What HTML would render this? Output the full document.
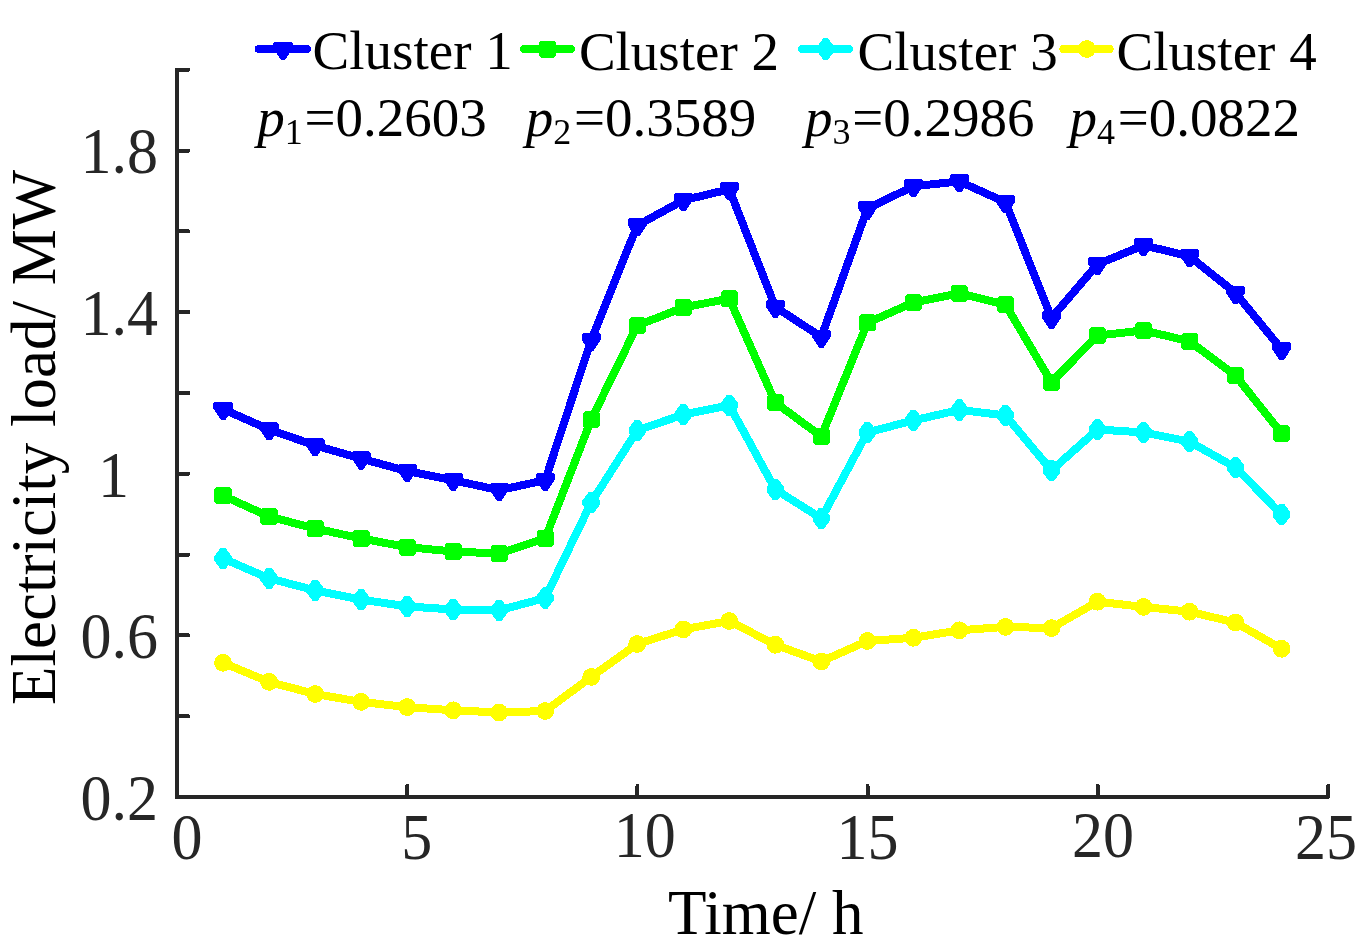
<!DOCTYPE html>
<html><head><meta charset="utf-8"><title>Electricity load clusters</title>
<style>
html,body{margin:0;padding:0;background:#fff;}
svg{display:block;font-family:"Liberation Serif",serif;}
</style></head><body>
<svg width="1364" height="950" viewBox="0 0 1364 950">
<rect width="1364" height="950" fill="#fff"/>
<g shape-rendering="crispEdges">
<path d="M188.5 69.7H177.0V797.0H1328V786" fill="none" stroke="#262626" stroke-width="4" stroke-linejoin="round" stroke-linecap="round"/>
<path d="M178.0 716.19H188.5" stroke="#262626" stroke-width="4" stroke-linecap="round"/>
<path d="M178.0 635.38H188.5" stroke="#262626" stroke-width="4" stroke-linecap="round"/>
<path d="M178.0 554.57H188.5" stroke="#262626" stroke-width="4" stroke-linecap="round"/>
<path d="M178.0 473.76H188.5" stroke="#262626" stroke-width="4" stroke-linecap="round"/>
<path d="M178.0 392.94H188.5" stroke="#262626" stroke-width="4" stroke-linecap="round"/>
<path d="M178.0 312.13H188.5" stroke="#262626" stroke-width="4" stroke-linecap="round"/>
<path d="M178.0 231.32H188.5" stroke="#262626" stroke-width="4" stroke-linecap="round"/>
<path d="M178.0 150.51H188.5" stroke="#262626" stroke-width="4" stroke-linecap="round"/>
<path d="M407.20 796.0V786" stroke="#262626" stroke-width="4" stroke-linecap="round"/>
<path d="M637.40 796.0V786" stroke="#262626" stroke-width="4" stroke-linecap="round"/>
<path d="M867.60 796.0V786" stroke="#262626" stroke-width="4" stroke-linecap="round"/>
<path d="M1097.80 796.0V786" stroke="#262626" stroke-width="4" stroke-linecap="round"/>
<polyline points="223.05,662.80 269.07,681.90 315.10,694.00 361.12,701.90 407.14,707.10 453.16,710.30 499.18,712.50 545.21,711.00 591.23,676.90 637.25,644.00 683.27,629.40 729.29,621.00 775.32,644.80 821.34,661.50 867.36,641.00 913.38,637.80 959.40,630.30 1005.43,626.90 1051.45,628.10 1097.47,601.70 1143.49,606.90 1189.51,611.70 1235.54,622.60 1281.56,648.80" fill="none" stroke="#ffff00" stroke-width="8.0" stroke-linejoin="round" stroke-linecap="round"/>
<circle cx="223.05" cy="662.80" r="8.9" fill="#ffff00"/>
<circle cx="269.07" cy="681.90" r="8.9" fill="#ffff00"/>
<circle cx="315.10" cy="694.00" r="8.9" fill="#ffff00"/>
<circle cx="361.12" cy="701.90" r="8.9" fill="#ffff00"/>
<circle cx="407.14" cy="707.10" r="8.9" fill="#ffff00"/>
<circle cx="453.16" cy="710.30" r="8.9" fill="#ffff00"/>
<circle cx="499.18" cy="712.50" r="8.9" fill="#ffff00"/>
<circle cx="545.21" cy="711.00" r="8.9" fill="#ffff00"/>
<circle cx="591.23" cy="676.90" r="8.9" fill="#ffff00"/>
<circle cx="637.25" cy="644.00" r="8.9" fill="#ffff00"/>
<circle cx="683.27" cy="629.40" r="8.9" fill="#ffff00"/>
<circle cx="729.29" cy="621.00" r="8.9" fill="#ffff00"/>
<circle cx="775.32" cy="644.80" r="8.9" fill="#ffff00"/>
<circle cx="821.34" cy="661.50" r="8.9" fill="#ffff00"/>
<circle cx="867.36" cy="641.00" r="8.9" fill="#ffff00"/>
<circle cx="913.38" cy="637.80" r="8.9" fill="#ffff00"/>
<circle cx="959.40" cy="630.30" r="8.9" fill="#ffff00"/>
<circle cx="1005.43" cy="626.90" r="8.9" fill="#ffff00"/>
<circle cx="1051.45" cy="628.10" r="8.9" fill="#ffff00"/>
<circle cx="1097.47" cy="601.70" r="8.9" fill="#ffff00"/>
<circle cx="1143.49" cy="606.90" r="8.9" fill="#ffff00"/>
<circle cx="1189.51" cy="611.70" r="8.9" fill="#ffff00"/>
<circle cx="1235.54" cy="622.60" r="8.9" fill="#ffff00"/>
<circle cx="1281.56" cy="648.80" r="8.9" fill="#ffff00"/>
<polyline points="223.05,558.50 269.07,578.30 315.10,590.40 361.12,599.60 407.14,606.40 453.16,609.50 499.18,610.30 545.21,598.00 591.23,502.50 637.25,430.40 683.27,414.60 729.29,405.40 775.32,489.40 821.34,518.40 867.36,432.50 913.38,420.40 959.40,409.90 1005.43,415.40 1051.45,470.40 1097.47,429.50 1143.49,432.40 1189.51,441.60 1235.54,467.50 1281.56,514.40" fill="none" stroke="#00ffff" stroke-width="8.0" stroke-linejoin="round" stroke-linecap="round"/>
<path d="M220.60 547.90L225.50 547.90L231.80 556.30L231.80 560.70L225.50 569.10L220.60 569.10L214.30 560.70L214.30 556.30Z" fill="#00ffff"/>
<path d="M266.62 567.70L271.52 567.70L277.82 576.10L277.82 580.50L271.52 588.90L266.62 588.90L260.32 580.50L260.32 576.10Z" fill="#00ffff"/>
<path d="M312.65 579.80L317.55 579.80L323.85 588.20L323.85 592.60L317.55 601.00L312.65 601.00L306.35 592.60L306.35 588.20Z" fill="#00ffff"/>
<path d="M358.67 589.00L363.57 589.00L369.87 597.40L369.87 601.80L363.57 610.20L358.67 610.20L352.37 601.80L352.37 597.40Z" fill="#00ffff"/>
<path d="M404.69 595.80L409.59 595.80L415.89 604.20L415.89 608.60L409.59 617.00L404.69 617.00L398.39 608.60L398.39 604.20Z" fill="#00ffff"/>
<path d="M450.71 598.90L455.61 598.90L461.91 607.30L461.91 611.70L455.61 620.10L450.71 620.10L444.41 611.70L444.41 607.30Z" fill="#00ffff"/>
<path d="M496.73 599.70L501.63 599.70L507.93 608.10L507.93 612.50L501.63 620.90L496.73 620.90L490.43 612.50L490.43 608.10Z" fill="#00ffff"/>
<path d="M542.76 587.40L547.66 587.40L553.96 595.80L553.96 600.20L547.66 608.60L542.76 608.60L536.46 600.20L536.46 595.80Z" fill="#00ffff"/>
<path d="M588.78 491.90L593.68 491.90L599.98 500.30L599.98 504.70L593.68 513.10L588.78 513.10L582.48 504.70L582.48 500.30Z" fill="#00ffff"/>
<path d="M634.80 419.80L639.70 419.80L646.00 428.20L646.00 432.60L639.70 441.00L634.80 441.00L628.50 432.60L628.50 428.20Z" fill="#00ffff"/>
<path d="M680.82 404.00L685.72 404.00L692.02 412.40L692.02 416.80L685.72 425.20L680.82 425.20L674.52 416.80L674.52 412.40Z" fill="#00ffff"/>
<path d="M726.84 394.80L731.74 394.80L738.04 403.20L738.04 407.60L731.74 416.00L726.84 416.00L720.54 407.60L720.54 403.20Z" fill="#00ffff"/>
<path d="M772.87 478.80L777.77 478.80L784.07 487.20L784.07 491.60L777.77 500.00L772.87 500.00L766.57 491.60L766.57 487.20Z" fill="#00ffff"/>
<path d="M818.89 507.80L823.79 507.80L830.09 516.20L830.09 520.60L823.79 529.00L818.89 529.00L812.59 520.60L812.59 516.20Z" fill="#00ffff"/>
<path d="M864.91 421.90L869.81 421.90L876.11 430.30L876.11 434.70L869.81 443.10L864.91 443.10L858.61 434.70L858.61 430.30Z" fill="#00ffff"/>
<path d="M910.93 409.80L915.83 409.80L922.13 418.20L922.13 422.60L915.83 431.00L910.93 431.00L904.63 422.60L904.63 418.20Z" fill="#00ffff"/>
<path d="M956.95 399.30L961.85 399.30L968.15 407.70L968.15 412.10L961.85 420.50L956.95 420.50L950.65 412.10L950.65 407.70Z" fill="#00ffff"/>
<path d="M1002.98 404.80L1007.88 404.80L1014.18 413.20L1014.18 417.60L1007.88 426.00L1002.98 426.00L996.68 417.60L996.68 413.20Z" fill="#00ffff"/>
<path d="M1049.00 459.80L1053.90 459.80L1060.20 468.20L1060.20 472.60L1053.90 481.00L1049.00 481.00L1042.70 472.60L1042.70 468.20Z" fill="#00ffff"/>
<path d="M1095.02 418.90L1099.92 418.90L1106.22 427.30L1106.22 431.70L1099.92 440.10L1095.02 440.10L1088.72 431.70L1088.72 427.30Z" fill="#00ffff"/>
<path d="M1141.04 421.80L1145.94 421.80L1152.24 430.20L1152.24 434.60L1145.94 443.00L1141.04 443.00L1134.74 434.60L1134.74 430.20Z" fill="#00ffff"/>
<path d="M1187.06 431.00L1191.96 431.00L1198.26 439.40L1198.26 443.80L1191.96 452.20L1187.06 452.20L1180.76 443.80L1180.76 439.40Z" fill="#00ffff"/>
<path d="M1233.09 456.90L1237.99 456.90L1244.29 465.30L1244.29 469.70L1237.99 478.10L1233.09 478.10L1226.79 469.70L1226.79 465.30Z" fill="#00ffff"/>
<path d="M1279.11 503.80L1284.01 503.80L1290.31 512.20L1290.31 516.60L1284.01 525.00L1279.11 525.00L1272.81 516.60L1272.81 512.20Z" fill="#00ffff"/>
<polyline points="223.05,495.60 269.07,516.60 315.10,528.50 361.12,538.40 407.14,547.10 453.16,551.50 499.18,553.50 545.21,538.40 591.23,419.60 637.25,325.60 683.27,307.50 729.29,298.60 775.32,402.50 821.34,436.40 867.36,322.90 913.38,302.50 959.40,293.40 1005.43,304.60 1051.45,382.20 1097.47,335.60 1143.49,330.40 1189.51,341.30 1235.54,375.60 1281.56,433.40" fill="none" stroke="#00ff00" stroke-width="8.0" stroke-linejoin="round" stroke-linecap="round"/>
<path d="M216.75 487.10L229.35 487.10L231.65 489.40L231.65 501.80L229.35 504.10L216.75 504.10L214.45 501.80L214.45 489.40Z" fill="#00ff00"/>
<path d="M262.77 508.10L275.37 508.10L277.67 510.40L277.67 522.80L275.37 525.10L262.77 525.10L260.47 522.80L260.47 510.40Z" fill="#00ff00"/>
<path d="M308.80 520.00L321.40 520.00L323.70 522.30L323.70 534.70L321.40 537.00L308.80 537.00L306.50 534.70L306.50 522.30Z" fill="#00ff00"/>
<path d="M354.82 529.90L367.42 529.90L369.72 532.20L369.72 544.60L367.42 546.90L354.82 546.90L352.52 544.60L352.52 532.20Z" fill="#00ff00"/>
<path d="M400.84 538.60L413.44 538.60L415.74 540.90L415.74 553.30L413.44 555.60L400.84 555.60L398.54 553.30L398.54 540.90Z" fill="#00ff00"/>
<path d="M446.86 543.00L459.46 543.00L461.76 545.30L461.76 557.70L459.46 560.00L446.86 560.00L444.56 557.70L444.56 545.30Z" fill="#00ff00"/>
<path d="M492.88 545.00L505.48 545.00L507.78 547.30L507.78 559.70L505.48 562.00L492.88 562.00L490.58 559.70L490.58 547.30Z" fill="#00ff00"/>
<path d="M538.91 529.90L551.51 529.90L553.81 532.20L553.81 544.60L551.51 546.90L538.91 546.90L536.61 544.60L536.61 532.20Z" fill="#00ff00"/>
<path d="M584.93 411.10L597.53 411.10L599.83 413.40L599.83 425.80L597.53 428.10L584.93 428.10L582.63 425.80L582.63 413.40Z" fill="#00ff00"/>
<path d="M630.95 317.10L643.55 317.10L645.85 319.40L645.85 331.80L643.55 334.10L630.95 334.10L628.65 331.80L628.65 319.40Z" fill="#00ff00"/>
<path d="M676.97 299.00L689.57 299.00L691.87 301.30L691.87 313.70L689.57 316.00L676.97 316.00L674.67 313.70L674.67 301.30Z" fill="#00ff00"/>
<path d="M722.99 290.10L735.59 290.10L737.89 292.40L737.89 304.80L735.59 307.10L722.99 307.10L720.69 304.80L720.69 292.40Z" fill="#00ff00"/>
<path d="M769.02 394.00L781.62 394.00L783.92 396.30L783.92 408.70L781.62 411.00L769.02 411.00L766.72 408.70L766.72 396.30Z" fill="#00ff00"/>
<path d="M815.04 427.90L827.64 427.90L829.94 430.20L829.94 442.60L827.64 444.90L815.04 444.90L812.74 442.60L812.74 430.20Z" fill="#00ff00"/>
<path d="M861.06 314.40L873.66 314.40L875.96 316.70L875.96 329.10L873.66 331.40L861.06 331.40L858.76 329.10L858.76 316.70Z" fill="#00ff00"/>
<path d="M907.08 294.00L919.68 294.00L921.98 296.30L921.98 308.70L919.68 311.00L907.08 311.00L904.78 308.70L904.78 296.30Z" fill="#00ff00"/>
<path d="M953.10 284.90L965.70 284.90L968.00 287.20L968.00 299.60L965.70 301.90L953.10 301.90L950.80 299.60L950.80 287.20Z" fill="#00ff00"/>
<path d="M999.13 296.10L1011.73 296.10L1014.03 298.40L1014.03 310.80L1011.73 313.10L999.13 313.10L996.83 310.80L996.83 298.40Z" fill="#00ff00"/>
<path d="M1045.15 373.70L1057.75 373.70L1060.05 376.00L1060.05 388.40L1057.75 390.70L1045.15 390.70L1042.85 388.40L1042.85 376.00Z" fill="#00ff00"/>
<path d="M1091.17 327.10L1103.77 327.10L1106.07 329.40L1106.07 341.80L1103.77 344.10L1091.17 344.10L1088.87 341.80L1088.87 329.40Z" fill="#00ff00"/>
<path d="M1137.19 321.90L1149.79 321.90L1152.09 324.20L1152.09 336.60L1149.79 338.90L1137.19 338.90L1134.89 336.60L1134.89 324.20Z" fill="#00ff00"/>
<path d="M1183.21 332.80L1195.81 332.80L1198.11 335.10L1198.11 347.50L1195.81 349.80L1183.21 349.80L1180.91 347.50L1180.91 335.10Z" fill="#00ff00"/>
<path d="M1229.24 367.10L1241.84 367.10L1244.14 369.40L1244.14 381.80L1241.84 384.10L1229.24 384.10L1226.94 381.80L1226.94 369.40Z" fill="#00ff00"/>
<path d="M1275.26 424.90L1287.86 424.90L1290.16 427.20L1290.16 439.60L1287.86 441.90L1275.26 441.90L1272.96 439.60L1272.96 427.20Z" fill="#00ff00"/>
<polyline points="223.05,409.10 269.07,429.50 315.10,445.40 361.12,458.60 407.14,471.10 453.16,480.20 499.18,490.20 545.21,480.20 591.23,340.00 637.25,225.50 683.27,200.30 729.29,189.30 775.32,307.00 821.34,337.00 867.36,208.60 913.38,186.30 959.40,181.40 1005.43,202.30 1051.45,318.00 1097.47,264.30 1143.49,245.30 1189.51,256.30 1235.54,293.00 1281.56,349.30" fill="none" stroke="#0000ff" stroke-width="8.0" stroke-linejoin="round" stroke-linecap="round"/>
<path d="M215.15 401.80L230.95 401.80L232.65 403.50L232.65 408.80L225.25 420.00L220.85 420.00L213.45 408.80L213.45 403.50Z" fill="#0000ff"/>
<path d="M261.17 422.20L276.97 422.20L278.67 423.90L278.67 429.20L271.27 440.40L266.87 440.40L259.47 429.20L259.47 423.90Z" fill="#0000ff"/>
<path d="M307.20 438.10L323.00 438.10L324.70 439.80L324.70 445.10L317.30 456.30L312.90 456.30L305.50 445.10L305.50 439.80Z" fill="#0000ff"/>
<path d="M353.22 451.30L369.02 451.30L370.72 453.00L370.72 458.30L363.32 469.50L358.92 469.50L351.52 458.30L351.52 453.00Z" fill="#0000ff"/>
<path d="M399.24 463.80L415.04 463.80L416.74 465.50L416.74 470.80L409.34 482.00L404.94 482.00L397.54 470.80L397.54 465.50Z" fill="#0000ff"/>
<path d="M445.26 472.90L461.06 472.90L462.76 474.60L462.76 479.90L455.36 491.10L450.96 491.10L443.56 479.90L443.56 474.60Z" fill="#0000ff"/>
<path d="M491.28 482.90L507.08 482.90L508.78 484.60L508.78 489.90L501.38 501.10L496.98 501.10L489.58 489.90L489.58 484.60Z" fill="#0000ff"/>
<path d="M537.31 472.90L553.11 472.90L554.81 474.60L554.81 479.90L547.41 491.10L543.01 491.10L535.61 479.90L535.61 474.60Z" fill="#0000ff"/>
<path d="M583.33 332.70L599.13 332.70L600.83 334.40L600.83 339.70L593.43 350.90L589.03 350.90L581.63 339.70L581.63 334.40Z" fill="#0000ff"/>
<path d="M629.35 218.20L645.15 218.20L646.85 219.90L646.85 225.20L639.45 236.40L635.05 236.40L627.65 225.20L627.65 219.90Z" fill="#0000ff"/>
<path d="M675.37 193.00L691.17 193.00L692.87 194.70L692.87 200.00L685.47 211.20L681.07 211.20L673.67 200.00L673.67 194.70Z" fill="#0000ff"/>
<path d="M721.39 182.00L737.19 182.00L738.89 183.70L738.89 189.00L731.49 200.20L727.09 200.20L719.69 189.00L719.69 183.70Z" fill="#0000ff"/>
<path d="M767.42 299.70L783.22 299.70L784.92 301.40L784.92 306.70L777.52 317.90L773.12 317.90L765.72 306.70L765.72 301.40Z" fill="#0000ff"/>
<path d="M813.44 329.70L829.24 329.70L830.94 331.40L830.94 336.70L823.54 347.90L819.14 347.90L811.74 336.70L811.74 331.40Z" fill="#0000ff"/>
<path d="M859.46 201.30L875.26 201.30L876.96 203.00L876.96 208.30L869.56 219.50L865.16 219.50L857.76 208.30L857.76 203.00Z" fill="#0000ff"/>
<path d="M905.48 179.00L921.28 179.00L922.98 180.70L922.98 186.00L915.58 197.20L911.18 197.20L903.78 186.00L903.78 180.70Z" fill="#0000ff"/>
<path d="M951.50 174.10L967.30 174.10L969.00 175.80L969.00 181.10L961.60 192.30L957.20 192.30L949.80 181.10L949.80 175.80Z" fill="#0000ff"/>
<path d="M997.53 195.00L1013.33 195.00L1015.03 196.70L1015.03 202.00L1007.63 213.20L1003.23 213.20L995.83 202.00L995.83 196.70Z" fill="#0000ff"/>
<path d="M1043.55 310.70L1059.35 310.70L1061.05 312.40L1061.05 317.70L1053.65 328.90L1049.25 328.90L1041.85 317.70L1041.85 312.40Z" fill="#0000ff"/>
<path d="M1089.57 257.00L1105.37 257.00L1107.07 258.70L1107.07 264.00L1099.67 275.20L1095.27 275.20L1087.87 264.00L1087.87 258.70Z" fill="#0000ff"/>
<path d="M1135.59 238.00L1151.39 238.00L1153.09 239.70L1153.09 245.00L1145.69 256.20L1141.29 256.20L1133.89 245.00L1133.89 239.70Z" fill="#0000ff"/>
<path d="M1181.61 249.00L1197.41 249.00L1199.11 250.70L1199.11 256.00L1191.71 267.20L1187.31 267.20L1179.91 256.00L1179.91 250.70Z" fill="#0000ff"/>
<path d="M1227.64 285.70L1243.44 285.70L1245.14 287.40L1245.14 292.70L1237.74 303.90L1233.34 303.90L1225.94 292.70L1225.94 287.40Z" fill="#0000ff"/>
<path d="M1273.66 342.00L1289.46 342.00L1291.16 343.70L1291.16 349.00L1283.76 360.20L1279.36 360.20L1271.96 349.00L1271.96 343.70Z" fill="#0000ff"/>
<path d="M258.8 49H307.1" stroke="#0000ff" stroke-width="8.0" stroke-linecap="round"/><path d="M275.10 41.70L290.90 41.70L292.60 43.40L292.60 48.70L285.20 59.90L280.80 59.90L273.40 48.70L273.40 43.40Z" fill="#0000ff"/>
<path d="M524.2 49H570.8" stroke="#00ff00" stroke-width="8.0" stroke-linecap="round"/><path d="M541.30 40.50L553.90 40.50L556.20 42.80L556.20 55.20L553.90 57.50L541.30 57.50L539.00 55.20L539.00 42.80Z" fill="#00ff00"/>
<path d="M802 49H849" stroke="#00ffff" stroke-width="8.0" stroke-linecap="round"/><path d="M823.15 38.40L828.05 38.40L834.35 46.80L834.35 51.20L828.05 59.60L823.15 59.60L816.85 51.20L816.85 46.80Z" fill="#00ffff"/>
<path d="M1063.4 49H1109.7" stroke="#ffff00" stroke-width="8.0" stroke-linecap="round"/><circle cx="1086.70" cy="49.00" r="8.9" fill="#ffff00"/>
</g>
<g>
<text transform="translate(158 172.7) scale(0.985 1.038)" font-size="63" fill="#262626" text-anchor="end">1.8</text>
<text transform="translate(158 335) scale(0.985 1.038)" font-size="63" fill="#262626" text-anchor="end">1.4</text>
<text transform="translate(158 658) scale(0.985 1.038)" font-size="63" fill="#262626" text-anchor="end">0.6</text>
<text transform="translate(158 819.5) scale(0.985 1.038)" font-size="63" fill="#262626" text-anchor="end">0.2</text>
<text transform="translate(129 497) scale(0.985 1.038)" font-size="63" fill="#262626" text-anchor="end">1</text>
<text transform="translate(171.5 859.2) scale(0.985 1.038)" font-size="63" fill="#262626" text-anchor="start">0</text>
<text transform="translate(401.3 859.2) scale(0.985 1.038)" font-size="63" fill="#262626" text-anchor="start">5</text>
<text transform="translate(613.8 857.1) scale(0.985 1.038)" font-size="63" fill="#262626" text-anchor="start">10</text>
<text transform="translate(836.5 859.2) scale(0.985 1.038)" font-size="63" fill="#262626" text-anchor="start">15</text>
<text transform="translate(1072 857.1) scale(0.985 1.038)" font-size="63" fill="#262626" text-anchor="start">20</text>
<text transform="translate(1295 859.2) scale(0.985 1.038)" font-size="63" fill="#262626" text-anchor="start">25</text>
<text x="668" y="934.3" font-size="63" fill="#000" text-anchor="start">Time/ h</text>
<text transform="translate(55 705) rotate(-90)" font-size="63" fill="#000">Electricity load/ MW</text>
<text x="312.6" y="69.2" font-size="55" fill="#000" text-anchor="start">Cluster 1</text>
<text x="257.3" y="136" font-size="55" fill="#000"><tspan font-style="italic">p</tspan><tspan font-size="36" dy="8.2">1</tspan><tspan dy="-8.2" dx="1.8">=0.2603</tspan></text>
<text x="578.9" y="70.4" font-size="55" fill="#000" text-anchor="start">Cluster 2</text>
<text x="525.8" y="136" font-size="55" fill="#000"><tspan font-style="italic">p</tspan><tspan font-size="36" dy="8.2">2</tspan><tspan dy="-8.2" dx="2.8">=0.3589</tspan></text>
<text x="857.5" y="70.4" font-size="55" fill="#000" text-anchor="start">Cluster 3</text>
<text x="805" y="136" font-size="55" fill="#000"><tspan font-style="italic">p</tspan><tspan font-size="36" dy="8.2">3</tspan><tspan dy="-8.2" dx="1.8">=0.2986</tspan></text>
<text x="1116.5" y="70.4" font-size="55" fill="#000" text-anchor="start">Cluster 4</text>
<text x="1069.5" y="136" font-size="55" fill="#000"><tspan font-style="italic">p</tspan><tspan font-size="36" dy="8.2">4</tspan><tspan dy="-8.2" dx="2.8">=0.0822</tspan></text>
</g>
</svg>
</body></html>
